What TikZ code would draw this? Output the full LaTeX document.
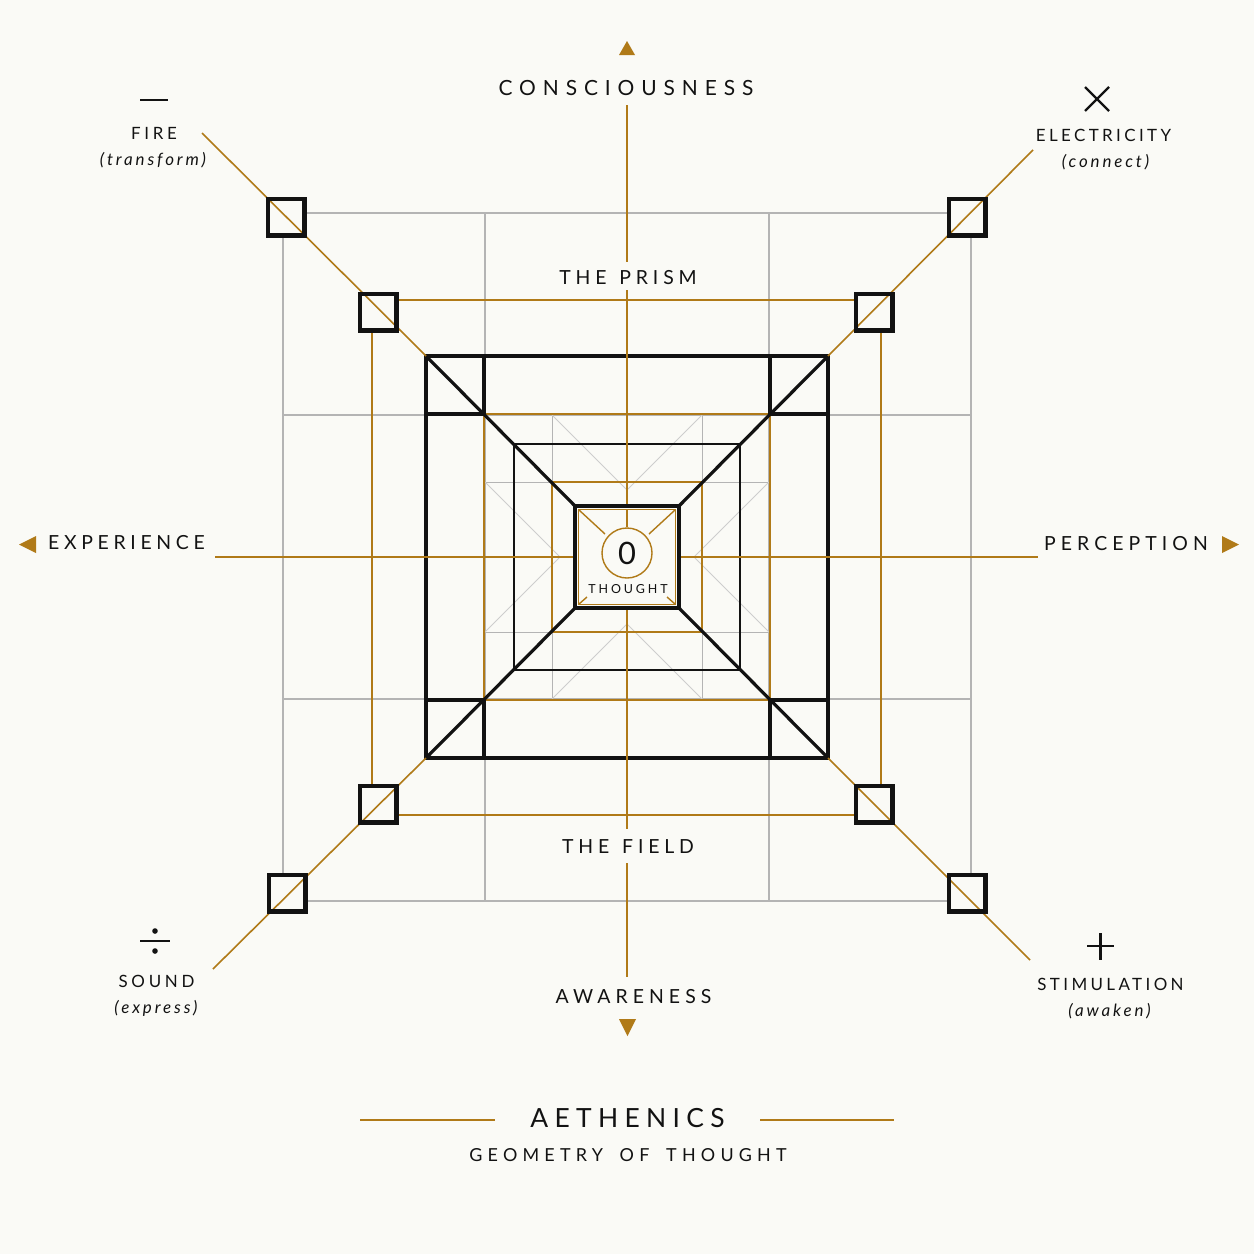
\documentclass[tikz,border=0pt]{standalone}
\usepackage{fontspec}
\setmainfont{Lato}
\definecolor{gold}{RGB}{176,122,24}
\definecolor{bg}{RGB}{250,250,246}
\definecolor{gridgray}{RGB}{180,180,180}
\definecolor{lightgray}{RGB}{205,205,205}
\definecolor{ink}{RGB}{18,18,18}
\newcommand{\trk}[3]{{\fontsize{#1}{#1}\selectfont\addfontfeature{LetterSpace=#2}#3}}
\newcommand{\trki}[3]{{\fontsize{#1}{#1}\selectfont\itshape\addfontfeature{LetterSpace=#2}#3}}
\begin{document}
\begin{tikzpicture}[x=1bp,y=-1bp,
  txt/.style={text=ink,inner sep=0pt,anchor=base},
  goldline/.style={draw=gold,line width=1.8bp},
  gridline/.style={draw=gridgray,line width=1.3bp},
  faint/.style={draw=lightgray,line width=0.9bp},
  blk/.style={draw=ink,line width=3.2bp},
  blkmid/.style={draw=ink,line width=2bp},
  smallsq/.style={draw=ink,line width=4.5bp,minimum size=36.5bp,inner sep=0pt,shape=rectangle},
  arrowtri/.style={fill=gold,draw=none}]
\fill[bg] (0,0) rectangle (1254,1254);
\useasboundingbox (0,0) rectangle (1254,1254);

% ---------- outer gray grid ----------
\draw[gridline] (283,213) rectangle (971,901);
\draw[gridline] (485,213) -- (485,901);
\draw[gridline] (769,213) -- (769,901);
\draw[gridline] (283,415) -- (971,415);
\draw[gridline] (283,699) -- (971,699);

% ---------- gold frame ----------
\draw[goldline] (372,300) rectangle (881,815);

% ---------- inner gray plus & V's ----------
\draw[gridline,line width=1bp] (552,415) -- (552,699);
\draw[gridline,line width=1bp] (702,415) -- (702,699);
\draw[gridline,line width=1bp] (485,482) -- (769,482);
\draw[gridline,line width=1bp] (485,632) -- (769,632);
\draw[faint] (552,415) -- (627,490) -- (702,415);
\draw[faint] (552,699) -- (627,624) -- (702,699);
\draw[faint] (485,482) -- (560,557) -- (485,632);
\draw[faint] (769,482) -- (694,557) -- (769,632);

% ---------- gold squares ----------
\draw[goldline] (484,414) rectangle (770,700);
\draw[goldline] (552,482) rectangle (702,632);

% ---------- black middle square ----------
\draw[blkmid] (514,444) rectangle (740,670);

% ---------- big black square with corner cells ----------
\draw[blk] (426,356) rectangle (828,758);
\draw[blk] (484,356) -- (484,414) -- (426,414);
\draw[blk] (770,356) -- (770,414) -- (828,414);
\draw[blk] (426,700) -- (484,700) -- (484,758);
\draw[blk] (828,700) -- (770,700) -- (770,758);

% ---------- corner coordinates ----------
\coordinate (bTL) at (426,356);
\coordinate (bTR) at (828,356);
\coordinate (bBL) at (426,758);
\coordinate (bBR) at (828,758);
\coordinate (cTL) at (575,506);
\coordinate (cTR) at (679,506);
\coordinate (cBL) at (575,608);
\coordinate (cBR) at (679,608);
\draw[blk] (bTL) -- (cTL);
\draw[blk] (bTR) -- (cTR);
\draw[blk] (bBL) -- (cBL);
\draw[blk] (bBR) -- (cBR);

% ---------- small squares (background fill) ----------
\foreach \n/\p in {o1/{(286,217)},o2/{(967,217)},o3/{(287,893)},o4/{(967,893)},
                  i1/{(378,312)},i2/{(874,312)},i3/{(378,804)},i4/{(874,804)}}{
  \node[smallsq,fill=bg,draw=none] (sqf\n) at \p {};
}

% ---------- labels ----------
\node[txt] (cons) at (626,95) {\trk{21}{33}{CONSCIOUSNESS}};
\node[txt] (prism) at (628,284) {\trk{19.5}{25}{THE\hspace{3bp} PRISM}};
\node[txt] (field) at (628,853) {\trk{19.5}{25}{THE\hspace{3bp} FIELD}};
\node[txt] (aware) at (633.5,1003) {\trk{19.5}{26}{AWARENESS}};
\node[txt] (exper) at (126.5,549) {\trk{19.5}{24}{EXPERIENCE}};
\node[txt] (perc) at (1126,550) {\trk{19.5}{26}{PERCEPTION}};

\node[txt] (fire) at (154,139) {\trk{17}{22}{FIRE}};
\node[txt] (firei) at (153,165) {\trki{17}{17}{(transform)}};
\node[txt] (elec) at (1103.5,141) {\trk{17}{20}{ELECTRICITY}};
\node[txt] (eleci) at (1105.5,167) {\trki{17}{17}{(connect)}};
\node[txt] (sound) at (156.5,987) {\trk{17}{22}{SOUND}};
\node[txt] (soundi) at (156,1013) {\trki{17}{17}{(express)}};
\node[txt] (stim) at (1110.5,990) {\trk{17}{20}{STIMULATION}};
\node[txt] (stimi) at (1109.5,1016) {\trki{17}{17}{(awaken)}};

\node[txt] (title) at (627.5,1127) {\trk{26.5}{24}{AETHENICS}};
\node[txt] (sub) at (628,1161) {\trk{18}{29}{GEOMETRY\hspace{7bp} OF\hspace{7bp} THOUGHT}};

% ---------- axis endpoints ----------
\coordinate (vt1) at (627,105);
\coordinate (vt2) at (627,262);
\coordinate (vt3) at (627,290);
\coordinate (vb1) at (627,829);
\coordinate (vb2) at (627,863);
\coordinate (vb3) at (627,977);
\coordinate (hl1) at (215,557);
\coordinate (hr1) at (1038,557);
\coordinate (cT) at (627,506);
\coordinate (cB) at (627,608);
\coordinate (cL) at (575,557);
\coordinate (cR) at (679,557);
\draw[goldline] (vt1) -- (vt2);
\draw[goldline] (vt3) -- (cT);
\draw[goldline] (cB) -- (vb1);
\draw[goldline] (vb2) -- (vb3);
\draw[goldline] (hl1) -- (cL);
\draw[goldline] (cR) -- (hr1);

% ---------- gold diagonals ----------
\coordinate (dTL) at (202,133);
\coordinate (dTR) at (1033,150);
\coordinate (dBL) at (213,969);
\coordinate (dBR) at (1030,960);
\draw[goldline,line width=1.6bp] (dTL) -- (bTL);
\draw[goldline,line width=1.6bp] (dTR) -- (bTR);
\draw[goldline,line width=1.6bp] (dBL) -- (bBL);
\draw[goldline,line width=1.6bp] (dBR) -- (bBR);

% ---------- small square borders ----------
\foreach \n/\p in {o1/{(286,217)},o2/{(967,217)},o3/{(287,893)},o4/{(967,893)},
                  i1/{(378,312)},i2/{(874,312)},i3/{(378,804)},i4/{(874,804)}}{
  \node[smallsq] (sq\n) at \p {};
}

% ---------- centre ----------
\draw[ink,line width=3.6bp,fill=bg] (cTL) rectangle (cBR);
\draw[gold,line width=1.5bp] (578.5,509.5) rectangle (675.5,604.5);
\draw[gold,line width=1.4bp] (579,510) -- (605,534);
\draw[gold,line width=1.4bp] (675,510) -- (649,534);
\draw[gold,line width=1.4bp] (579,604) -- (587,597);
\draw[gold,line width=1.4bp] (675,604) -- (667,597);
\node[draw=gold,line width=1.4bp,circle,minimum size=50bp,inner sep=0pt,fill=bg] (zero) at (627,553) {};
\coordinate (cTin) at (627,510);
\draw[goldline,line width=1.6bp] (cTin) -- (zero.north);
\node[txt] (zerotext) at (627,564) {\fontsize{31}{31}\selectfont 0};
\node[txt] (thought) at (628,593) {\trk{12.5}{23}{THOUGHT}};

% ---------- arrow triangles ----------
\fill[arrowtri] (619,55) -- (635,55) -- (627,41) -- cycle;
\fill[arrowtri] (619,1019) -- (636,1019) -- (627.5,1036) -- cycle;
\fill[arrowtri] (36,536) -- (36,553) -- (19,544.5) -- cycle;
\fill[arrowtri] (1222,536) -- (1222,553) -- (1239,544.5) -- cycle;

% ---------- operator symbols ----------
\draw[ink,line width=2.8bp] (140,100) -- (168,100);
\draw[ink,line width=2.2bp] (1085,87) -- (1109,111);
\draw[ink,line width=2.2bp] (1109,87) -- (1085,111);
\draw[ink,line width=2.2bp] (140,941) -- (170,941);
\fill[ink] (155,931) circle (2.8bp);
\fill[ink] (155,951) circle (2.8bp);
\draw[ink,line width=2.2bp] (1087,946) -- (1114,946);
\draw[ink,line width=2.2bp] (1100.5,933) -- (1100.5,960);

% ---------- bottom rules ----------
\coordinate (rl1) at (360,1120);
\coordinate (rl2) at (495,1120);
\coordinate (rr1) at (760,1120);
\coordinate (rr2) at (894,1120);
\draw[goldline] (rl1) -- (rl2);
\draw[goldline] (rr1) -- (rr2);
\end{tikzpicture}
\end{document}
